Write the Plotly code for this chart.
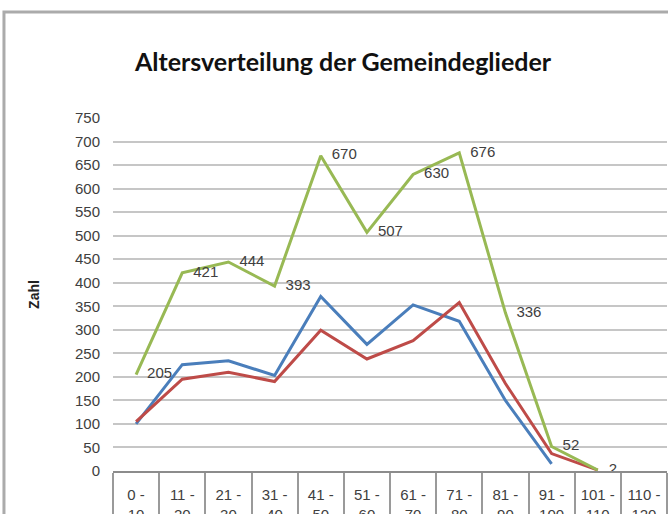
import plotly.graph_objects as go

categories = ["0 -<br>10", "11 -<br>20", "21 -<br>30", "31 -<br>40", "41 -<br>50",
              "51 -<br>60", "61 -<br>70", "71 -<br>80", "81 -<br>90", "91 -<br>100",
              "101 -<br>110", "110 -<br>120"]
blue_values = [100, 226, 234, 203, 371, 269, 353, 318, 150, 15, None, None]
red_values = [105, 195, 210, 190, 299, 238, 277, 358, 186, 37, 2, None]
green_values = [205, 421, 444, 393, 670, 507, 630, 676, 336, 52, 2, None]
green_labels = [str(v) if v is not None else "" for v in green_values]
y_ticks = list(range(0, 751, 50))

SANS = "Liberation Sans, Arial, sans-serif"
TXT = "#404040"

fig = go.Figure()
fig.add_trace(go.Scatter(x=categories, y=blue_values, mode="lines",
                         line=dict(color="#4A7EBB", width=3), name="blue"))
fig.add_trace(go.Scatter(x=categories, y=red_values, mode="lines",
                         line=dict(color="#BE4B48", width=3), name="red"))
fig.add_trace(go.Scatter(x=categories, y=green_values, mode="lines+markers+text",
                         line=dict(color="#98B954", width=3),
                         marker=dict(size=16, color="rgba(0,0,0,0)"),
                         text=green_labels, textposition="middle right",
                         textfont=dict(family=SANS, size=15, color=TXT),
                         name="green"))

fig.update_layout(
    width=668, height=514,
    margin=dict(l=113, r=1, t=118, b=43),
    paper_bgcolor="white", plot_bgcolor="white",
    showlegend=False,
    title=dict(text="Altersverteilung der Gemeindeglieder",
               font=dict(family="Lato, sans-serif", size=25, color="#111111", weight="bold"),
               x=343/668, xanchor="center", xref="container",
               y=1-62/514, yanchor="middle", yref="container"),
    shapes=[dict(type="rect", xref="paper", yref="paper",
                 x0=-0.1968, x1=1.3, y0=-0.6, y1=1.3003,
                 line=dict(color="#ababab", width=3), layer="below")],
)
fig.update_xaxes(type="category", categoryorder="array", categoryarray=categories,
                 range=[-0.5, 11.5], showgrid=False, zeroline=False,
                 showline=True, linecolor="#8c8c8c", linewidth=2,
                 ticks="outside", tickson="boundaries", ticklen=50,
                 tickwidth=2, tickcolor="#9a9a9a", tickangle=0,
                 ticklabelstandoff=9, automargin=False,
                 tickfont=dict(family=SANS, size=15, color=TXT))
fig.update_yaxes(range=[0, 750], tickvals=y_ticks, showgrid=True,
                 gridcolor="#c6c6c6", gridwidth=2, zeroline=False, showline=False,
                 ticks="", ticklabelstandoff=12,
                 tickfont=dict(family=SANS, size=15, color=TXT),
                 title=dict(text="Zahl", standoff=32,
                            font=dict(family=SANS, size=14, color="#222222", weight="bold")),
                 automargin=False)

fig.write_html("out.html", config={"displayModeBar": False},
               post_script="document.body.style.margin='0px';")
